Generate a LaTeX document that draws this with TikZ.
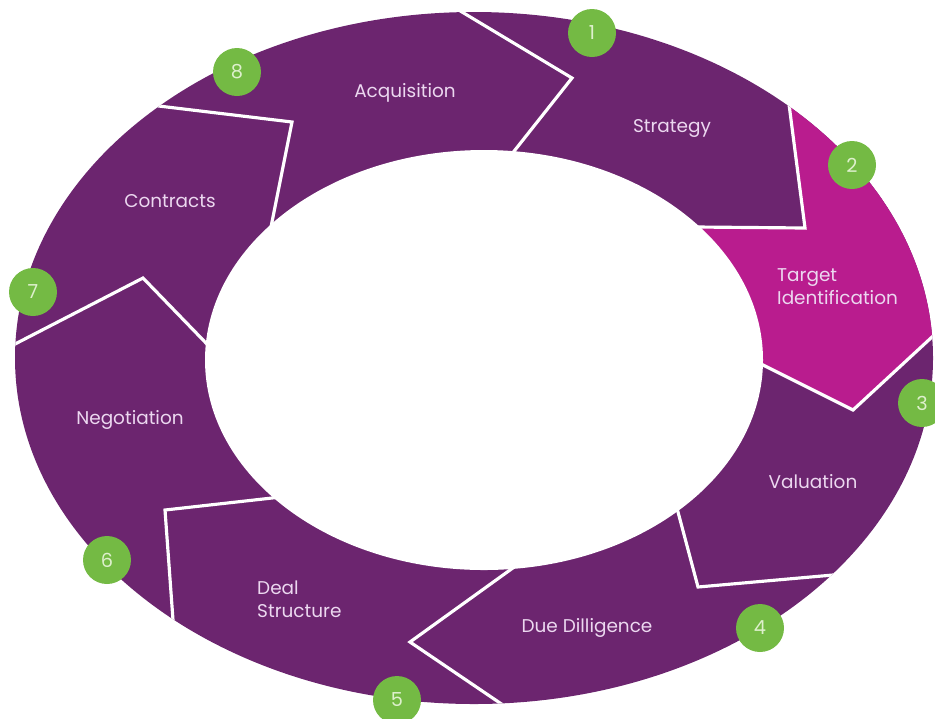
\documentclass[tikz,border=0pt]{standalone}
\usepackage{fontspec}
\setmainfont{Poppins}
\usepackage{tikz}
\definecolor{ringpurple}{RGB}{108,37,111}
\definecolor{targetpink}{RGB}{185,28,142}
\definecolor{badgegreen}{RGB}{116,186,68}
\definecolor{labelpink}{RGB}{236,216,240}
\definecolor{badgetext}{RGB}{222,240,205}
\usetikzlibrary{calc}

\begin{document}
\begin{tikzpicture}[x=0.02cm, y=-0.02cm,
    stage/.style={text=labelpink, font=\fontsize{10.5}{13}\selectfont, align=left},
    badge/.style={circle, fill=badgegreen, minimum size=0.96cm, inner sep=0pt, text=badgetext, font=\fontsize{11}{11}\selectfont},
    divider/.style={draw=white, line width=1.8pt, line join=miter}
]
    \useasboundingbox (0,0) rectangle (935,718);

    % Ring
    \fill[ringpurple] (474,358) ellipse [x radius=459, y radius=346];

    % Divider corners (outer, tip, inner)
    \coordinate (o1) at (467,15);  \coordinate (v1) at (572,78);  \coordinate (i1) at (515,150);
    \coordinate (o2) at (790,112); \coordinate (v2) at (805,228); \coordinate (i2) at (697,227);
    \coordinate (o3) at (932,337); \coordinate (v3) at (853,410); \coordinate (i3) at (763,365);
    \coordinate (o4) at (833,575); \coordinate (v4) at (698,587); \coordinate (i4) at (678,512);
    \coordinate (o5) at (500,703); \coordinate (v5) at (410,642); \coordinate (i5) at (510,570);
    \coordinate (o6) at (173,620); \coordinate (v6) at (165,510); \coordinate (i6) at (272,498);
    \coordinate (o7) at (17,343);  \coordinate (v7) at (143,278); \coordinate (i7) at (205,342);
    \coordinate (o8) at (167,107); \coordinate (v8) at (292,122); \coordinate (i8) at (272,222);

    \begin{scope}
        \clip (474,358) ellipse [x radius=459, y radius=346];
        % Target Identification segment
        \fill[targetpink] ($(v2)!1.3!(o2)$) -- (v2) -- ($(v2)!1.3!(i2)$) -- ($(v3)!1.3!(i3)$)
            -- (v3) -- ($(v3)!1.3!(o3)$) -- (1000,100) -- cycle;
        % Dividers
        \foreach \k in {1,...,8}
            \draw[divider] ($(v\k)!1.2!(o\k)$) -- (v\k) -- ($(v\k)!1.3!(i\k)$);
    \end{scope}

    % Hole
    \fill[white] (484,360) ellipse [x radius=279, y radius=210];

    % Stages
    \node[stage] (acquisition) at (405,93) {Acquisition};
    \node[stage] (strategy) at (672,128) {Strategy};
    \node[stage, anchor=west] (target) at (771,287) {Target\\Identification};
    \node[stage] (valuation) at (813,482) {Valuation};
    \node[stage] (diligence) at (587,628) {Due Dilligence};
    \node[stage, anchor=west] (deal) at (251,599) {Deal\\Structure};
    \node[stage] (negotiation) at (130,420) {Negotiation};
    \node[stage] (contracts) at (170,201) {Contracts};

    % Badges
    \node[badge] (b1) at (592,33) {1};
    \node[badge] (b2) at (852,165) {2};
    \node[badge] (b3) at (922,403) {3};
    \node[badge] (b4) at (760,628) {4};
    \node[badge] (b5) at (397,700) {5};
    \node[badge] (b6) at (107,560) {6};
    \node[badge] (b7) at (33,292) {7};
    \node[badge] (b8) at (237,72) {8};
\end{tikzpicture}
\end{document}
